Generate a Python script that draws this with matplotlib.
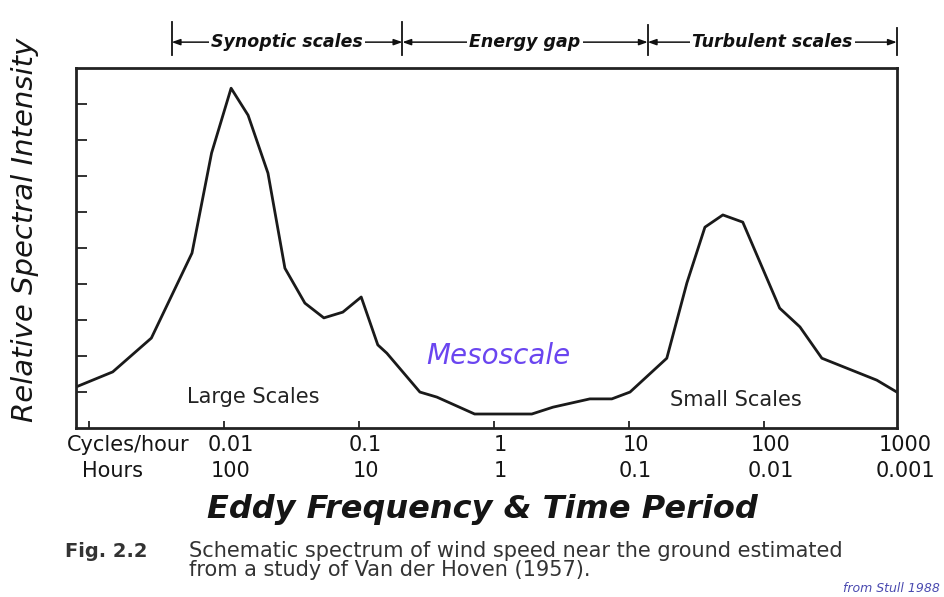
import numpy as np
import matplotlib
matplotlib.use('Agg')
import matplotlib.pyplot as plt
import matplotlib.transforms as mtransforms

# spectrum: frequency (cycles/hour) and relative intensity
freq = [0.0008, 0.0015, 0.0029, 0.0058, 0.0081, 0.0113, 0.0151, 0.0212, 0.0283,
        0.0398, 0.055, 0.076, 0.104, 0.138, 0.161, 0.283, 0.378, 0.72, 1.91,
        2.74, 5.14, 7.48, 10.2, 19.1, 26.9, 36.6, 49.7, 69.8, 131, 185, 269,
        687, 966]
intensity = [1.14, 1.56, 2.5, 4.86, 7.64, 9.44, 8.69, 7.08, 4.44,
             3.47, 3.06, 3.22, 3.64, 2.31, 2.08, 1.0, 0.86, 0.39, 0.39,
             0.58, 0.81, 0.81, 1.0, 1.94, 4.03, 5.58, 5.92, 5.72, 3.33, 2.81, 1.94,
             1.33, 1.0]

tick_freqs = [0.01, 0.1, 1, 10, 100, 1000]
cycles_labels = ['0.01', '0.1', '1', '10', '100', '1000']
hours_labels = ['100', '10', '1', '0.1', '0.01', '0.001']

scale_names = ['Synoptic scales', 'Energy gap', 'Turbulent scales']
scale_edges = [0.0041, 0.21, 13.8, 966]

plt.rcParams['font.family'] = ['DejaVu Sans']
txt = '#151515'

fig = plt.figure(figsize=(9.44, 5.97), dpi=100)
ax = fig.add_axes([0.0805, 0.283, 0.8695, 0.603])

ax.plot(freq, intensity, color='#1a1a1a', lw=2)
ax.set_xscale('log')
ax.set_xlim(10**-3.096, 10**2.985)
ax.set_ylim(0, 10)

ax.set_xticks([0.001, 0.01, 0.1, 1, 10, 100])
ax.set_xticklabels([])
ax.xaxis.set_minor_locator(matplotlib.ticker.NullLocator())
ax.set_yticks(np.arange(1, 10))
ax.set_yticklabels([])
ax.tick_params(axis='both', direction='in', width=1.3, color='#222')
ax.tick_params(axis='y', length=8)
ax.tick_params(axis='x', length=5, top=False)
for s in ax.spines.values():
    s.set_linewidth(2)
    s.set_color('#222')

trans = mtransforms.blended_transform_factory(ax.transData, ax.transAxes)

# tick label rows
ax.text(10**-3.16, -0.048, 'Cycles/hour', transform=trans, ha='left', va='center',
        fontsize=15, color=txt, clip_on=False)
ax.text(10**-3.05, -0.118, 'Hours', transform=trans, ha='left', va='center',
        fontsize=15, color=txt, clip_on=False)
for f, c, h in zip(tick_freqs, cycles_labels, hours_labels):
    xf = f * 1.12
    ax.text(xf, -0.048, c, transform=trans, ha='center', va='center',
            fontsize=15, color=txt, clip_on=False)
    ax.text(xf, -0.118, h, transform=trans, ha='center', va='center',
            fontsize=15, color=txt, clip_on=False)

fig.text(0.511, 0.146, 'Eddy Frequency & Time Period', ha='center', va='center',
         fontsize=23, fontweight='bold', style='italic', color=txt)
fig.text(0.027, 0.615, 'Relative Spectral Intensity', rotation=90, ha='center',
         va='center', fontsize=21, style='italic', color=txt)

# annotations inside the plot
ax.text(0.0165, 0.85, 'Large Scales', ha='center', va='center', fontsize=15, color='#222')
ax.text(62, 0.78, 'Small Scales', ha='center', va='center', fontsize=15, color='#222')
ax.text(1.08, 2.0, 'Mesoscale', ha='center', va='center', fontsize=20,
        style='italic', color='#6a45f0')

# scale ranges above the plot
for e, top in zip(scale_edges, [1.128, 1.128, 1.12, 1.11]):
    ax.plot([e, e], [1.036, top], transform=trans, color='#111', lw=1.3, clip_on=False)
for name, a, b in zip(scale_names, scale_edges[:-1], scale_edges[1:]):
    ax.annotate('', xy=(a, 1.072), xytext=(b, 1.072), xycoords=trans, textcoords=trans,
                arrowprops=dict(arrowstyle='<|-|>,head_length=0.5,head_width=0.18',
                                color='#111', lw=1.1, shrinkA=0, shrinkB=0))
    xm = np.sqrt(a * b)
    ax.text(xm, 1.072, name, transform=trans, ha='center', va='center',
            fontsize=12.5, fontweight='bold', style='italic', color='#111',
            bbox=dict(facecolor='white', edgecolor='none', pad=1.5), clip_on=False)

# caption
fig.text(0.069, 0.077, 'Fig. 2.2', fontsize=14, fontweight='bold', color='#333',
         ha='left', va='center')
fig.text(0.2, 0.077, 'Schematic spectrum of wind speed near the ground estimated',
         fontsize=15, color='#333', ha='left', va='center')
fig.text(0.2, 0.045, 'from a study of Van der Hoven (1957).',
         fontsize=15, color='#333', ha='left', va='center')
fig.text(0.996, 0.015, 'from Stull 1988', fontsize=9, style='italic',
         color='#4a4ab0', ha='right', va='center')

fig.savefig('out.png', dpi=100)
